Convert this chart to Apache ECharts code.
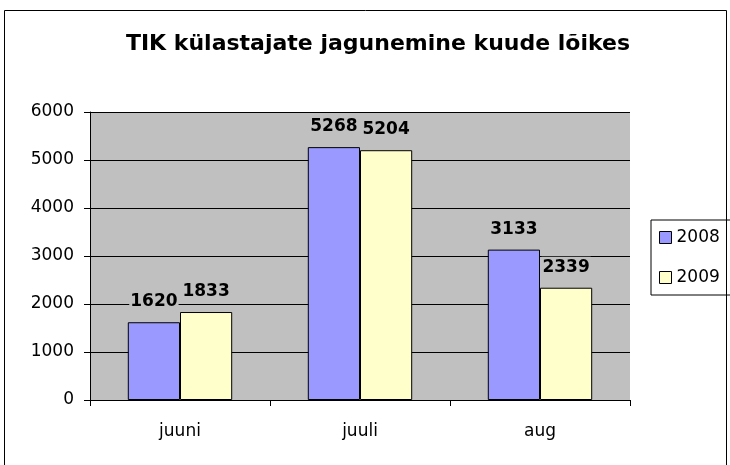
<!DOCTYPE html>
<html>
<head>
<meta charset="utf-8">
<script src="https://cdn.jsdelivr.net/npm/echarts@6/dist/echarts.min.js"></script>
<style>
    html, body { margin: 0; padding: 0; background: #fff; }
    #chart { width: 730px; height: 465px; }
</style>
</head>
<body>
<div id="chart"></div>
<script>
const months = ["juuni", "juuli", "aug"]
const visitors2008 = [1620, 5268, 3133]
const visitors2009 = [1833, 5204, 2339]
const yTicks = [0, 1000, 2000, 3000, 4000, 5000, 6000]

const font = "DejaVu Sans, sans-serif"

const barLabel = {
    show: true,
    position: "top",
    distance: 12,
    color: "#000",
    fontFamily: font,
    fontSize: 17,
    fontWeight: "bold",
    backgroundColor: "#c0c0c0",
    padding: [2, 1, 0, 1],
}

const myChart = echarts.init(document.getElementById("chart"))
myChart.setOption({
    animation: false,
    title: {
        text: "TIK külastajate jagunemine kuude lõikes",
        left: 373,
        textAlign: "center",
        top: 28,
        textStyle: { fontFamily: font, fontSize: 22, fontWeight: "bold", color: "#000" },
    },
    graphic: [
        {
            type: "rect",
            shape: { x: 4.5, y: 10.5, width: 722, height: 470 },
            style: { fill: null, stroke: "#000", lineWidth: 1 },
            silent: true,
        },
    ],
    legend: {
        orient: "vertical",
        left: 651,
        top: 220,
        itemWidth: 12,
        itemHeight: 12,
        itemGap: 23,
        padding: [9, 30, 9, 8],
        borderColor: "#000",
        borderWidth: 1,
        textStyle: { fontFamily: font, fontSize: 17, color: "#000" },
        data: [
            { name: "2008", icon: "rect", itemStyle: { borderColor: "#000", borderWidth: 1 } },
            { name: "2009", icon: "rect", itemStyle: { borderColor: "#000", borderWidth: 1 } },
        ],
    },
    grid: { left: 90, right: 100, top: 112, bottom: 65, show: true, backgroundColor: "#c0c0c0", borderWidth: 0 },
    xAxis: {
        type: "category",
        data: months,
        axisLine: { lineStyle: { color: "#000" } },
        axisTick: { show: true, length: 6, lineStyle: { color: "#000" } },
        axisLabel: { color: "#000", fontFamily: font, fontSize: 17, margin: 23 },
    },
    yAxis: {
        type: "value",
        min: yTicks[0],
        max: yTicks[yTicks.length - 1],
        interval: 1000,
        axisLine: { show: true, lineStyle: { color: "#000" } },
        axisTick: { show: true, length: 6, lineStyle: { color: "#000" } },
        axisLabel: {
            color: "#000",
            fontFamily: font,
            fontSize: 17,
            margin: 16,
            formatter: (v) => String(v),
        },
        splitLine: { lineStyle: { color: "#000", width: 1 } },
    },
    series: [
        {
            name: "2008",
            type: "bar",
            data: visitors2008,
            barGap: "0%",
            barCategoryGap: "42%",
            itemStyle: { color: "#9999ff", borderColor: "#000", borderWidth: 1 },
            label: barLabel,
        },
        {
            name: "2009",
            type: "bar",
            data: visitors2009,
            itemStyle: { color: "#ffffcc", borderColor: "#000", borderWidth: 1 },
            label: barLabel,
        },
    ],
})
</script>
</body>
</html>
